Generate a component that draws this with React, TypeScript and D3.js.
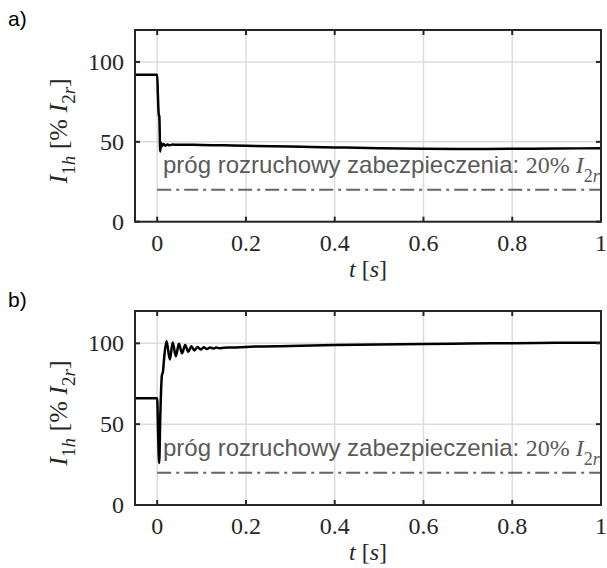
import React from 'react';
import * as d3 from 'd3';

const W = 607;
const H = 568;

// time [s] and I1h [% I2r]
const tA = [-0.05, 0, 0.0015, 0.0035, 0.0048, 0.0068, 0.0085, 0.011, 0.014, 0.018, 0.023, 0.028, 0.035, 0.045, 0.06, 0.08, 0.1, 0.15, 0.2, 0.3, 0.4, 0.5, 0.6, 0.7, 0.8, 0.9, 1.0];
const iA = [92, 92, 80, 67, 66, 44, 49.4, 47.3, 48.6, 47.6, 48.4, 47.9, 48.3, 48.1, 48.2, 48.1, 48.0, 47.8, 47.5, 47.0, 46.5, 46.0, 45.7, 45.5, 45.6, 45.8, 46.0];

const tB = [-0.05, 0, 0.002, 0.0045, 0.007, 0.0105, 0.013, 0.016, 0.021, 0.0285, 0.035, 0.042, 0.049, 0.056, 0.063, 0.07, 0.077, 0.084, 0.091, 0.098, 0.105, 0.112, 0.119, 0.126, 0.133, 0.14, 0.15, 0.17, 0.2, 0.3, 0.4, 0.5, 0.6, 0.7, 0.8, 0.9, 1.0];
const iB = [66, 66, 45, 26, 55, 80, 82.5, 92, 101.5, 90, 100.5, 92, 99.8, 93.8, 99, 94.8, 98.2, 95.6, 97.8, 96.2, 97.6, 96.5, 97.5, 96.8, 97.4, 97, 97.3, 97.4, 97.8, 98.4, 98.9, 99.3, 99.6, 99.9, 100.1, 100.3, 100.4];

const threshold = 20;
const xTicks = [0, 0.2, 0.4, 0.6, 0.8, 1];
const yTicks = [0, 50, 100];

const serif = '"Liberation Serif", "DejaVu Serif", serif';
const sans = '"Liberation Sans", Arial, sans-serif';

const x = d3.scaleLinear().domain([-0.05, 1]).range([135, 601]);

function Panel({ t, v, top, bottom, tag }: { t: number[]; v: number[]; top: number; bottom: number; tag: string }) {
  const y = d3.scaleLinear().domain([0, 120]).range([bottom, top]);
  const pts: [number, number][] = t.map((d, i) => [d, v[i]]);
  const line = d3
    .line<[number, number]>()
    .x(d => x(d[0]))
    .y(d => y(d[1]))
    .curve(d3.curveMonotoneX);
  const [x0, x1] = x.range();
  const tick = 5;
  const labelY = y(30.5);
  return (
    <g>
      <text x={8} y={top - 4} fontFamily={sans} fontSize={21} fill="#000">{tag}</text>
      {xTicks.map(d => (
        <line key={'gx' + d} x1={x(d)} x2={x(d)} y1={top} y2={bottom} stroke="#dcdcdc" strokeWidth={1.5} />
      ))}
      {yTicks.map(d => (
        <line key={'gy' + d} x1={x0} x2={x1} y1={y(d)} y2={y(d)} stroke="#dcdcdc" strokeWidth={1.5} />
      ))}
      <line
        x1={x(0)}
        x2={x(1)}
        y1={y(threshold)}
        y2={y(threshold)}
        stroke="#666"
        strokeWidth={2}
        strokeDasharray="14,5,3,5"
      />
      <text x={163} y={labelY} fill="#5a5a5a">
        <tspan fontFamily={sans} fontSize={24}>próg rozruchowy zabezpieczenia: </tspan>
        <tspan fontFamily={serif} fontSize={24}>20% </tspan>
        <tspan fontFamily={serif} fontSize={24} fontStyle="italic">I</tspan>
        <tspan fontFamily={serif} fontSize={18} dy={9}>2</tspan>
        <tspan fontFamily={serif} fontSize={18} fontStyle="italic">r</tspan>
      </text>
      <path d={line(pts) || ''} fill="none" stroke="#000" strokeWidth={2.5} strokeLinejoin="round" />
      <rect x={x0} y={top} width={x1 - x0} height={bottom - top} fill="none" stroke="#262626" strokeWidth={2} />
      {xTicks.map(d => (
        <g key={'tx' + d}>
          <line x1={x(d)} x2={x(d)} y1={bottom} y2={bottom - tick} stroke="#262626" strokeWidth={2} />
          <line x1={x(d)} x2={x(d)} y1={top} y2={top + tick} stroke="#262626" strokeWidth={2} />
          <text x={x(d)} y={bottom + 29} textAnchor="middle" fontFamily={serif} fontSize={24} fill="#262626">
            {d3.format('~g')(d)}
          </text>
        </g>
      ))}
      {yTicks.map(d => (
        <g key={'ty' + d}>
          <line x1={x0} x2={x0 + tick} y1={y(d)} y2={y(d)} stroke="#262626" strokeWidth={2} />
          <line x1={x1} x2={x1 - tick} y1={y(d)} y2={y(d)} stroke="#262626" strokeWidth={2} />
          <text x={x0 - 11} y={y(d)} dy="0.34em" textAnchor="end" fontFamily={serif} fontSize={24} fill="#262626">
            {d}
          </text>
        </g>
      ))}
      <text x={(x0 + x1) / 2} y={bottom + 55} textAnchor="middle" fontFamily={serif} fontSize={24} fill="#262626">
        <tspan fontStyle="italic">t</tspan>
        <tspan> [</tspan>
        <tspan fontStyle="italic">s</tspan>
        <tspan>]</tspan>
      </text>
      <text
        transform={`translate(67, ${(top + bottom) / 2 + 5}) rotate(-90)`}
        textAnchor="middle"
        fontFamily={serif}
        fontSize={26}
        fill="#262626"
      >
        <tspan fontStyle="italic">I</tspan>
        <tspan fontSize={19} dy={8}>1</tspan>
        <tspan fontSize={19} fontStyle="italic">h</tspan>
        <tspan dy={-8}> [% </tspan>
        <tspan fontStyle="italic">I</tspan>
        <tspan fontSize={19} dy={8}>2</tspan>
        <tspan fontSize={19} fontStyle="italic">r</tspan>
        <tspan dy={-8}>]</tspan>
      </text>
    </g>
  );
}

export default function App() {
  return (
    <svg width={W} height={H} style={{ position: 'absolute', left: 0, top: 0 }}>
      <rect width={W} height={H} fill="#fff" />
      <Panel t={tA} v={iA} top={30} bottom={221.7} tag="a)" />
      <Panel t={tB} v={iB} top={311} bottom={505} tag="b)" />
    </svg>
  );
}
